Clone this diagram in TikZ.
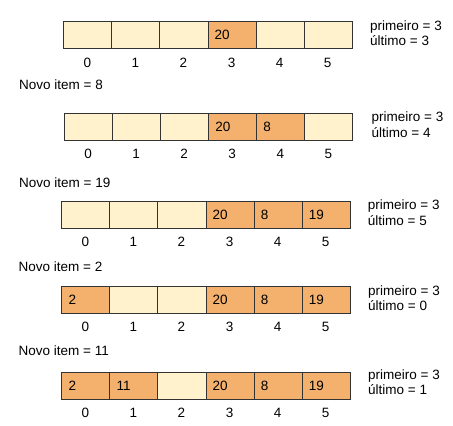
\documentclass[tikz,border=0pt]{standalone}
\usepackage{fontspec}
\setmainfont{Liberation Sans}
\definecolor{lightc}{HTML}{FFF2CC}
\definecolor{fullc}{HTML}{F4B16E}
\definecolor{edgec}{HTML}{333333}
\tikzset{
  cellbox/.style={draw=edgec, fill=lightc, line width=0.9pt, minimum width=48.07pt, minimum height=27pt, inner sep=0pt, anchor=north west},
  fullbox/.style={cellbox, fill=fullc},
  valtxt/.style={anchor=west, inner sep=0pt, font=\fontsize{13.5}{16}\selectfont},
  idxtxt/.style={inner sep=0pt, font=\fontsize{13.5}{16}\selectfont},
  sidetxt/.style={anchor=west, inner sep=0pt, align=left, font=\fontsize{13.5}{15.5}\selectfont},
}
\newcommand\cellrow[5]{% name, x0, ytop, idx y, list i/value
  \foreach \i in {0,...,5}{
    \node[cellbox] (#1c\i) at ({#2+\i*48.07},{#3}) {};
    \node[idxtxt] (#1i\i) at ({#2+\i*48.07+24.03},{#4}) {\i};
  }
  \foreach \i/\v in {#5}{
    \node[fullbox] (#1f\i) at ({#2+\i*48.07},{#3}) {};
    \node[valtxt] (#1v\i) at ([xshift=7pt]#1f\i.west) {\v};
  }
}
\begin{document}
\begin{tikzpicture}[x=1pt,y=-1pt]
\useasboundingbox (0,0) rectangle (453,426);
\cellrow{ra}{63.3}{21.3}{63}{3/20}
\node[sidetxt] (sa) at (370,33) {primeiro = 3\\último = 3};
\node[sidetxt] (na) at (19,85) {Novo item = 8};
\cellrow{rb}{64}{113.3}{154}{3/20,4/8}
\node[sidetxt] (sb) at (371.5,124.5) {primeiro = 3\\último = 4};
\node[sidetxt] (nb) at (19,182.7) {Novo item = 19};
\cellrow{rc}{61.3}{201}{241.7}{3/20,4/8,5/19}
\node[sidetxt] (sc) at (367.7,212.5) {primeiro = 3\\último = 5};
\node[sidetxt] (nc) at (18.5,266.7) {Novo item = 2};
\cellrow{rd}{61.3}{286}{327}{0/2,3/20,4/8,5/19}
\node[sidetxt] (sd) at (368,298) {primeiro = 3\\último = 0};
\node[sidetxt] (nd) at (18.5,351) {Novo item = 11};
\cellrow{re}{61.3}{371.7}{412.7}{0/2,1/11,3/20,4/8,5/19}
\node[sidetxt] (se) at (368,382.2) {primeiro = 3\\último = 1};
\end{tikzpicture}
\end{document}
